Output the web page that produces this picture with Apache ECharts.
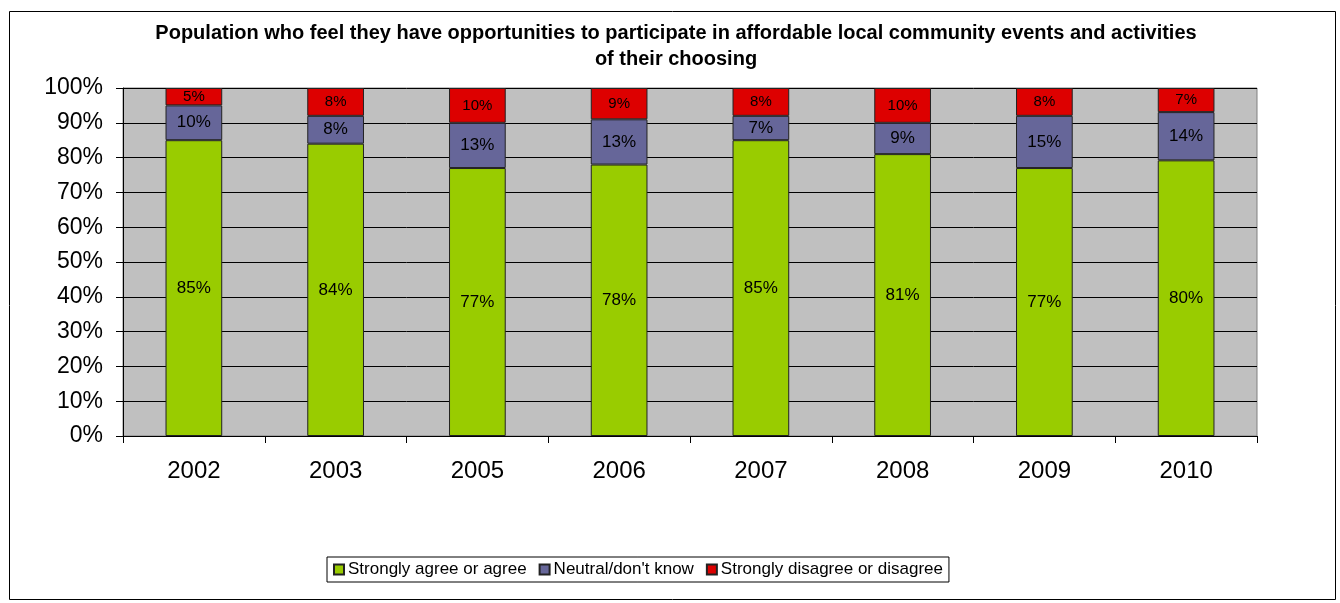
<!DOCTYPE html>
<html>
<head>
<meta charset="utf-8">
<script src="https://cdn.jsdelivr.net/npm/echarts@6/dist/echarts.min.js"></script>
<style>
  html, body { margin: 0; padding: 0; background: #fff; }
  #chart { width: 1340px; height: 603px; }
</style>
</head>
<body>
<div id="chart"></div>
<script>
// Survey years
const years = ['2002', '2003', '2005', '2006', '2007', '2008', '2009', '2010'];
// Reported shares (%) per response group
const agree    = [85, 84, 77, 78, 85, 81, 77, 80];
const neutral  = [10,  8, 13, 13,  7,  9, 15, 14];
const disagree = [ 5,  8, 10,  9,  8, 10,  8,  7];
const seriesNames = ['Strongly agree or agree', 'Neutral/don\'t know', 'Strongly disagree or disagree'];
const yTicks = ['0%', '10%', '20%', '30%', '40%', '50%', '60%', '70%', '80%', '90%', '100%'];

// 100% stacked: each column is scaled so its parts fill the whole
const totals = years.map((_, i) => agree[i] + neutral[i] + disagree[i]);
const share = arr => arr.map((v, i) => v * 100 / totals[i]);

const font = 'Liberation Sans, Arial, sans-serif';
const colors = ['#99CC00', '#666699', '#DD0000'];
const raw = [agree, neutral, disagree];

const chart = echarts.init(document.getElementById('chart'));
chart.setOption({
  animation: false,
  textStyle: { fontFamily: font },
  graphic: [{
    type: 'rect', left: 7, top: 9,
    shape: { width: 1326, height: 588 },
    style: { fill: 'none', stroke: '#000', lineWidth: 1 }, z: -1
  }],
  title: {
    text: 'Population who feel they have opportunities to participate in affordable local community events and activities\nof their choosing',
    left: 671, textAlign: 'center', top: 15,
    textStyle: { fontFamily: font, fontSize: 20, fontWeight: 'bold', color: '#000', lineHeight: 26 }
  },
  legend: {
    left: 327, top: 557,
    itemWidth: 10, itemHeight: 10, itemGap: 12,
    padding: [4, 6],
    borderColor: '#000', borderWidth: 1,
    icon: 'rect',
    textStyle: { fontFamily: font, fontSize: 17, color: '#000', padding: [0, 0, 0, -1] },
    data: seriesNames
  },
  grid: {
    left: 123, right: 83, top: 88, bottom: 167,
    show: true, backgroundColor: '#C0C0C0', borderColor: '#808080', borderWidth: 1
  },
  xAxis: {
    type: 'category', data: years,
    axisLine: { lineStyle: { color: '#000', width: 1 } },
    axisTick: { show: true, length: 7, lineStyle: { color: '#000' } },
    axisLabel: { fontFamily: font, fontSize: 24, color: '#000', margin: 23 }
  },
  yAxis: {
    type: 'value', min: 0, max: 100, interval: 10,
    axisLine: { show: true, lineStyle: { color: '#000', width: 1 } },
    axisTick: { show: true, length: 7, lineStyle: { color: '#000' } },
    axisLabel: {
      fontFamily: font, fontSize: 23, color: '#000', margin: 20,
      formatter: v => yTicks[Math.round(v / 10)]
    },
    splitLine: { lineStyle: { color: '#000', width: 1 } }
  },
  series: seriesNames.map((name, s) => ({
    name, type: 'bar', stack: 'total', barWidth: '40%',
    data: share(raw[s]),
    itemStyle: { color: colors[s], borderColor: '#222', borderWidth: 1 },
    label: {
      show: true, position: 'inside',
      fontFamily: font, fontSize: s === 2 ? 15 : 17, color: '#000',
      formatter: p => raw[s][p.dataIndex] + '%'
    }
  }))
});
</script>
</body>
</html>
